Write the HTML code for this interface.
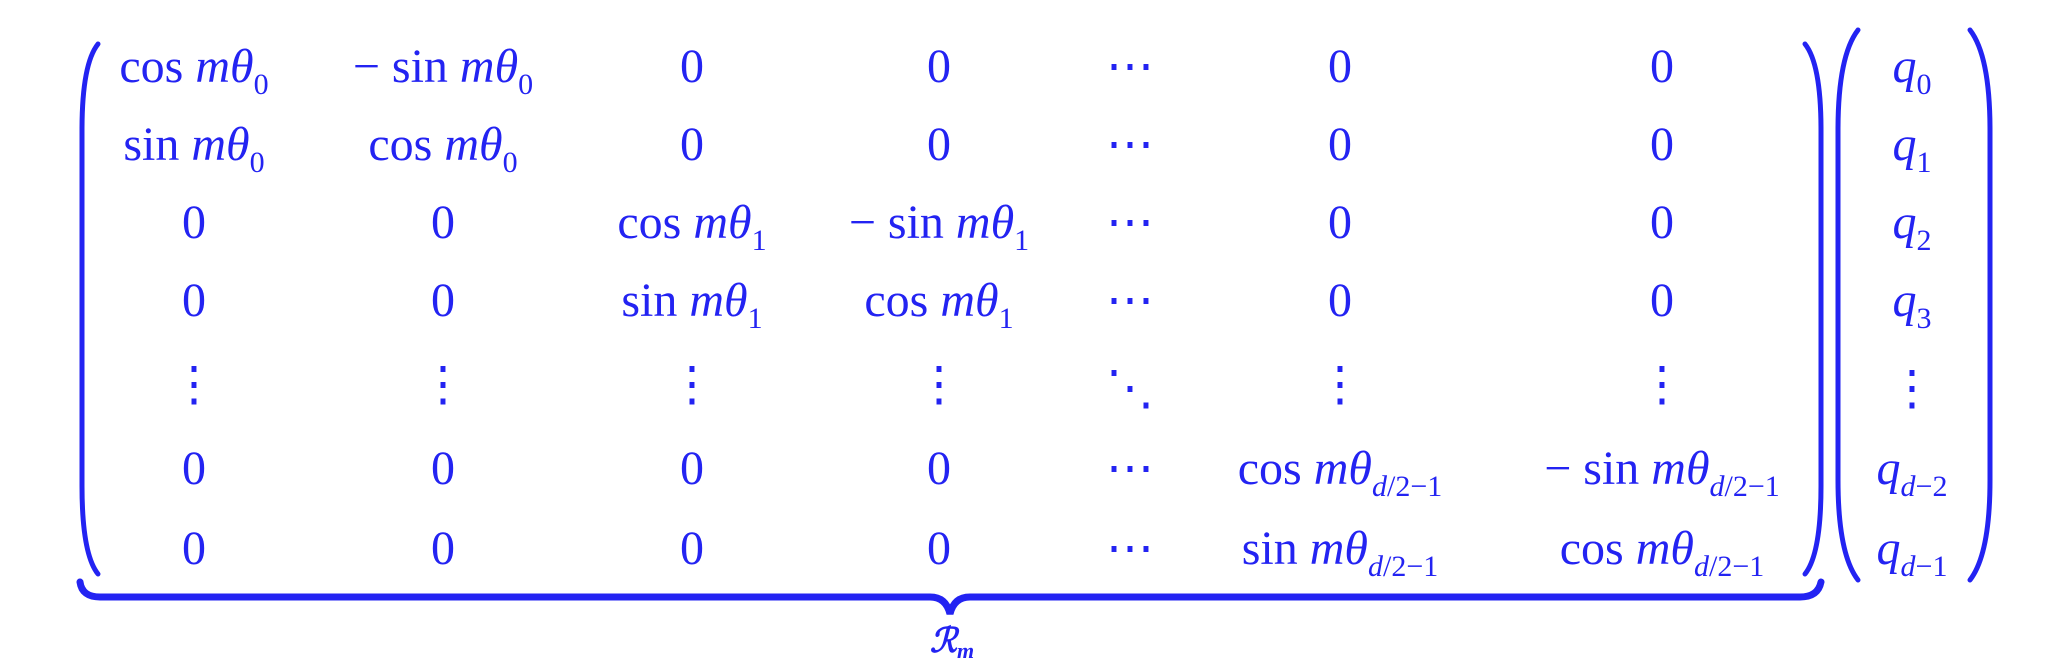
<!DOCTYPE html>
<html>
<head>
<meta charset="utf-8">
<style>
  html,body{margin:0;padding:0;background:#fff;}
  svg{display:block;}
  text{font-family:"Liberation Serif","DejaVu Serif",serif;fill:#2323f2;font-size:48px;}
  .i{font-style:italic;}
  .sub{font-size:30px;}
</style>
</head>
<body>
<svg width="2056" height="662" viewBox="0 0 2056 662">
  <g fill="none" stroke="#2323f2" stroke-width="5" stroke-linecap="round">
    <path d="M98,44 Q82,64 82,130 L82,486 Q82,554 98,574"/>
    <path d="M1805,44 Q1821,64 1821,130 L1821,486 Q1821,554 1805,574"/>
    <path d="M1858,30 Q1838,56 1838,130 L1838,480 Q1838,554 1858,580"/>
    <path d="M1970,30 Q1990,56 1990,130 L1990,480 Q1990,554 1970,580"/>
    <path stroke-width="7" d="M80,582 Q82,597 100,597 L930,597 Q946,597 950,614 Q954,597 970,597 L1800,597 Q1818,597 1821,582"/>
  </g>
  <g id="cells" text-anchor="middle"></g>
  <text x="952" y="652" text-anchor="middle" class="i" style="font-size:34px;font-weight:bold">ℛ<tspan class="sub" dy="6" style="font-size:22px">m</tspan></text>
</svg>
<script>
const cols=[194,443,692,939,1130,1340,1662];
const rowsY=[82,160,238,316,404,484,564];
function sub(s){return s.replace(/d/g,'<tspan class="i">d</tspan>');}
function cs(f,s,neg){return (neg?'− ':'')+f+' <tspan class="i">mθ</tspan><tspan class="sub" dy="12">'+sub(s)+'</tspan>';}
const D='d/2−1';
const cells=[
 [cs('cos','0'),cs('sin','0',true),'0','0','⋯','0','0'],
 [cs('sin','0'),cs('cos','0'),'0','0','⋯','0','0'],
 ['0','0',cs('cos','1'),cs('sin','1',true),'⋯','0','0'],
 ['0','0',cs('sin','1'),cs('cos','1'),'⋯','0','0'],
 ['⋮','⋮','⋮','⋮','⋱','⋮','⋮'],
 ['0','0','0','0','⋯',cs('cos',D),cs('sin',D,true)],
 ['0','0','0','0','⋯',cs('sin',D),cs('cos',D)]
];
const qsub=['0','1','2','3',null,'d−2','d−1'];
const g=document.getElementById('cells');
const NS='http://www.w3.org/2000/svg';
cells.forEach((row,r)=>{
  row.forEach((c,ci)=>{
    const t=document.createElementNS(NS,'text');
    t.setAttribute('x',cols[ci]);
    t.setAttribute('y',rowsY[r]-(c==='⋮'?4:0));
    
    
    t.innerHTML=c;
    g.appendChild(t);
  });
  const q=document.createElementNS(NS,'text');
  q.setAttribute('x',1912);
  q.setAttribute('y',rowsY[r]);
  
  
  q.innerHTML=qsub[r]===null?'⋮':'<tspan class="i">q</tspan><tspan class="sub" dy="12">'+sub(qsub[r])+'</tspan>';
  g.appendChild(q);
});
</script>
</body>
</html>
